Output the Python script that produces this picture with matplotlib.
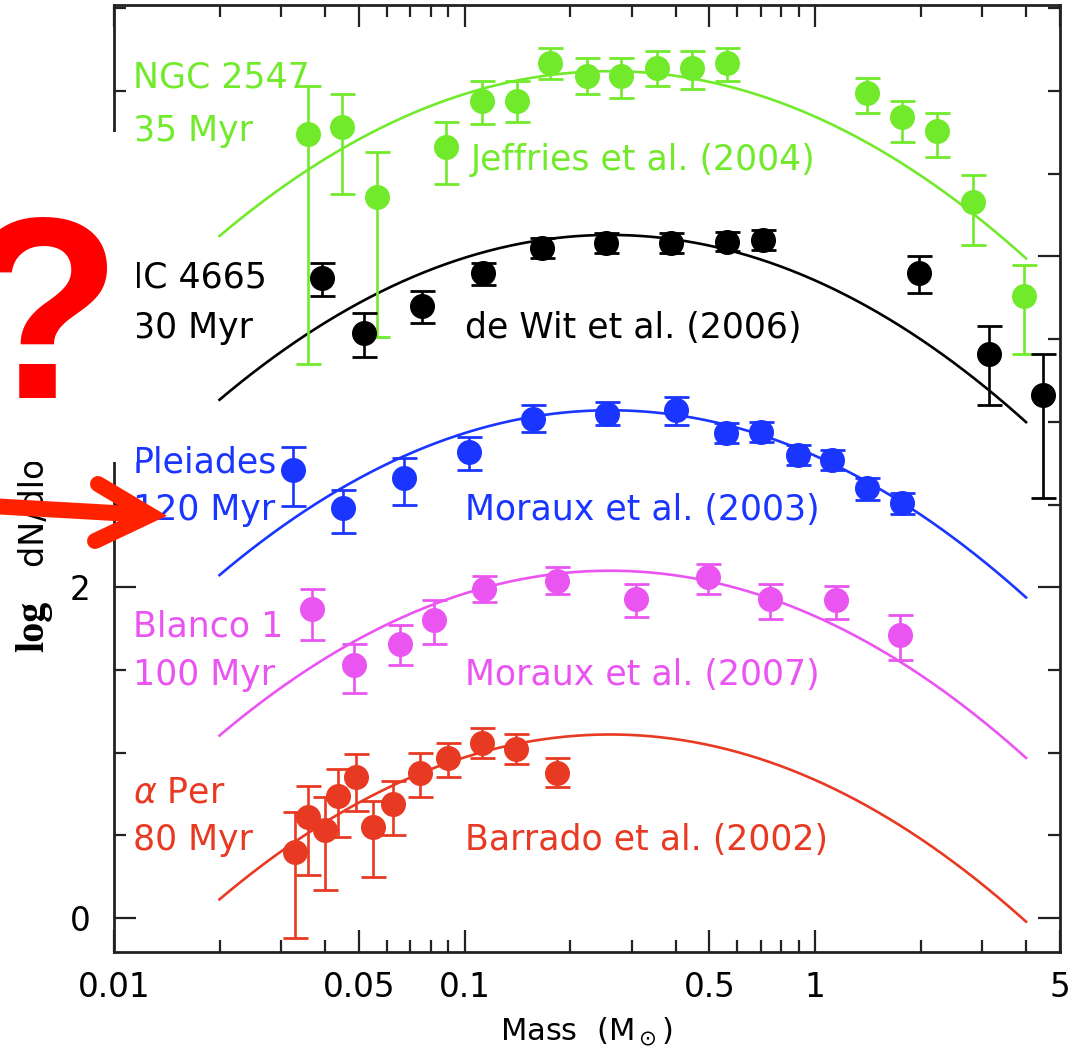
import numpy as np
import matplotlib
matplotlib.use('Agg')
import matplotlib.pyplot as plt
from matplotlib.patches import Rectangle
from matplotlib.lines import Line2D

# NGC 2547 (Jeffries et al. 2004)
ngc_mass = [0.0357, 0.0447, 0.0563, 0.0886, 0.112, 0.141, 0.175, 0.224, 0.279,
            0.354, 0.446, 0.561, 1.41, 1.77, 2.23, 2.82, 3.95]
ngc_logn = [4.74, 4.78, 4.36, 4.66, 4.94, 4.94, 5.17, 5.09, 5.09,
            5.14, 5.14, 5.17, 4.99, 4.84, 4.76, 4.33, 3.76]
ngc_lo = [1.39, 0.40, 0.85, 0.22, 0.14, 0.13, 0.10, 0.11, 0.13,
          0.11, 0.13, 0.11, 0.12, 0.15, 0.16, 0.26, 0.35]
ngc_hi = [0.29, 0.20, 0.27, 0.15, 0.12, 0.12, 0.09, 0.11, 0.11,
          0.10, 0.10, 0.09, 0.09, 0.10, 0.11, 0.16, 0.19]

# IC 4665 (de Wit et al. 2006)
ic_mass = [0.0392, 0.0517, 0.0757, 0.113, 0.166, 0.253, 0.388, 0.561, 0.711,
           1.98, 3.14, 4.47]
ic_logn = [3.87, 3.54, 3.70, 3.90, 4.05, 4.08, 4.08, 4.09, 4.10,
           3.90, 3.41, 3.16]
ic_lo = [0.11, 0.15, 0.10, 0.07, 0.06, 0.06, 0.06, 0.06, 0.06, 0.12, 0.31, 0.62]
ic_hi = [0.09, 0.12, 0.09, 0.06, 0.06, 0.06, 0.06, 0.06, 0.06, 0.10, 0.17, 0.25]

# Pleiades (Moraux et al. 2003)
ple_mass = [0.0324, 0.045, 0.0672, 0.103, 0.157, 0.255, 0.401, 0.557, 0.702,
            0.894, 1.12, 1.41, 1.77]
ple_logn = [2.71, 2.48, 2.66, 2.82, 3.02, 3.05, 3.07, 2.93, 2.94,
            2.80, 2.77, 2.60, 2.51]
ple_lo = [0.22, 0.15, 0.16, 0.11, 0.08, 0.07, 0.09, 0.06, 0.06, 0.06, 0.06, 0.07, 0.07]
ple_hi = [0.14, 0.11, 0.12, 0.09, 0.08, 0.07, 0.08, 0.06, 0.06, 0.06, 0.06, 0.06, 0.06]

# Blanco 1 (Moraux et al. 2007)
bla_mass = [0.0367, 0.0484, 0.0655, 0.0818, 0.114, 0.184, 0.308, 0.495, 0.744,
            1.15, 1.75]
bla_logn = [1.87, 1.53, 1.66, 1.80, 1.99, 2.04, 1.93, 2.06, 1.93, 1.92, 1.71]
bla_lo = [0.19, 0.17, 0.13, 0.14, 0.08, 0.08, 0.11, 0.10, 0.12, 0.11, 0.15]
bla_hi = [0.12, 0.13, 0.11, 0.12, 0.08, 0.08, 0.09, 0.08, 0.09, 0.09, 0.12]

# alpha Per (Barrado et al. 2002)
aper_mass = [0.0328, 0.0358, 0.040, 0.0436, 0.049, 0.0548, 0.0624, 0.0747,
             0.0898, 0.112, 0.140, 0.184]
aper_logn = [0.40, 0.61, 0.53, 0.74, 0.85, 0.55, 0.69, 0.88, 0.97, 1.06, 1.02, 0.88]
aper_lo = [0.52, 0.35, 0.36, 0.25, 0.20, 0.30, 0.19, 0.15, 0.12, 0.09, 0.09, 0.09]
aper_hi = [0.24, 0.19, 0.20, 0.16, 0.14, 0.16, 0.14, 0.12, 0.09, 0.09, 0.09, 0.09]

# log-normal fits: same shape, shifted in level
fit_peak = [5.12, 4.13, 3.07, 2.10, 1.11]
fit_mc = 0.26
fit_sigma = 0.52
fit_range = (0.02, 4.0)

names = ['NGC 2547', 'IC 4665', 'Pleiades', 'Blanco 1', r'$\alpha$ Per']
ages = ['35 Myr', '30 Myr', '120 Myr', '100 Myr', '80 Myr']
refs = ['Jeffries et al. (2004)', 'de Wit et al. (2006)', 'Moraux et al. (2003)',
        'Moraux et al. (2007)', 'Barrado et al. (2002)']
name_y = [5.08, 3.87, 2.755, 1.76, 0.76]
age_y = [4.76, 3.57, 2.465, 1.47, 0.47]
ref_y = [4.58, 3.57, 2.465, 1.47, 0.47]
ref_x = [0.104, 0.100, 0.100, 0.100, 0.100]
colors = ['#72ea2c', '#000000', '#1a35ff', '#ea55f2', '#e83a22']

datasets = [(ngc_mass, ngc_logn, ngc_lo, ngc_hi),
            (ic_mass, ic_logn, ic_lo, ic_hi),
            (ple_mass, ple_logn, ple_lo, ple_hi),
            (bla_mass, bla_logn, bla_lo, bla_hi),
            (aper_mass, aper_logn, aper_lo, aper_hi)]

W, H = 1079, 1064
fig = plt.figure(figsize=(W / 100, H / 100), dpi=100)
ax = fig.add_axes([114 / W, 1 - 952 / H, (1060 - 114) / W, (952 - 5) / H])

m = np.logspace(np.log10(fit_range[0]), np.log10(fit_range[1]), 300)
for i, (mass, logn, lo, hi) in enumerate(datasets):
    c = colors[i]
    curve = fit_peak[i] - np.log10(np.e) * (np.log10(m) - np.log10(fit_mc))**2 / (2 * fit_sigma**2)
    ax.plot(m, curve, color=c, lw=1.9, zorder=2)
    ax.errorbar(mass, logn, yerr=[lo, hi], fmt='o', color=c, ms=17,
                capsize=9, elinewidth=1.9, capthick=2.0, zorder=3)
    ax.text(0.0113, name_y[i], names[i], color=c, fontsize=25, va='center', ha='left')
    ax.text(0.0113, age_y[i], ages[i], color=c, fontsize=25, va='center', ha='left')
    ax.text(ref_x[i], ref_y[i], refs[i], color=c, fontsize=25, va='center', ha='left')

ax.set_xscale('log')
ax.set_xlim(0.01, 5)
ax.set_ylim(-0.205, 5.52)
ax.set_xticks([0.01, 0.05, 0.1, 0.5, 1, 5])
ax.set_xticklabels(['0.01', '0.05', '0.1', '0.5', '1', '5'])
ax.set_xticks([0.02, 0.03, 0.04, 0.06, 0.07, 0.08, 0.09, 0.2, 0.3, 0.4,
               0.6, 0.7, 0.8, 0.9, 2, 3, 4], minor=True)
ax.set_yticks([0, 2, 4])
ax.set_yticks(np.arange(0, 5.6, 0.5), minor=True)
ax.tick_params(which='both', direction='in', top=True, right=True,
               width=1.6, color='#222222', labelsize=23.5)
ax.tick_params(which='major', length=16)
ax.tick_params(which='minor', length=8.5)
ax.tick_params(axis='x', which='major', pad=14)
ax.tick_params(axis='y', which='major', pad=17)
for s in ax.spines.values():
    s.set_linewidth(2.0)
    s.set_color('#222222')

ax.set_xlabel(r'Mass  (M$_\odot$)', fontsize=22, labelpad=8)

# y label: bold serif "log" followed by the sans part
fig.text(34 / W, 1 - 652 / H, 'log', rotation=90, family='Liberation Serif',
         fontweight='bold', fontsize=29, ha='center', va='bottom')
fig.text(35 / W, 1 - 567 / H, 'dN/dlog M', rotation=90, fontsize=24,
         ha='center', va='bottom')

# blank panel over the upper-left margin with the question mark and arrow
fig.add_artist(Rectangle((0, 1 - 462 / H), 137 / W, (462 - 132) / H,
                         transform=fig.transFigure, facecolor='white',
                         edgecolor='none', zorder=5))
fig.text(42 / W, 1 - 398 / H, '?', color='#ff0000', fontsize=186,
         family='Liberation Sans', fontweight='bold', ha='center',
         va='baseline', zorder=6)

def px(xs, ys):
    return [x / W for x in xs], [1 - y / H for y in ys]

ax_x, ax_y = px([-10, 150], [506, 515])
fig.add_artist(Line2D(ax_x, ax_y, transform=fig.transFigure, color='#ff2200',
                      lw=11.5, solid_capstyle='butt', zorder=6))
hx, hy = px([98, 150, 95], [484, 515, 541])
fig.add_artist(Line2D(hx, hy, transform=fig.transFigure, color='#ff2200',
                      lw=11.5, solid_capstyle='round', solid_joinstyle='miter',
                      zorder=6))

fig.savefig('out.png', dpi=100)
